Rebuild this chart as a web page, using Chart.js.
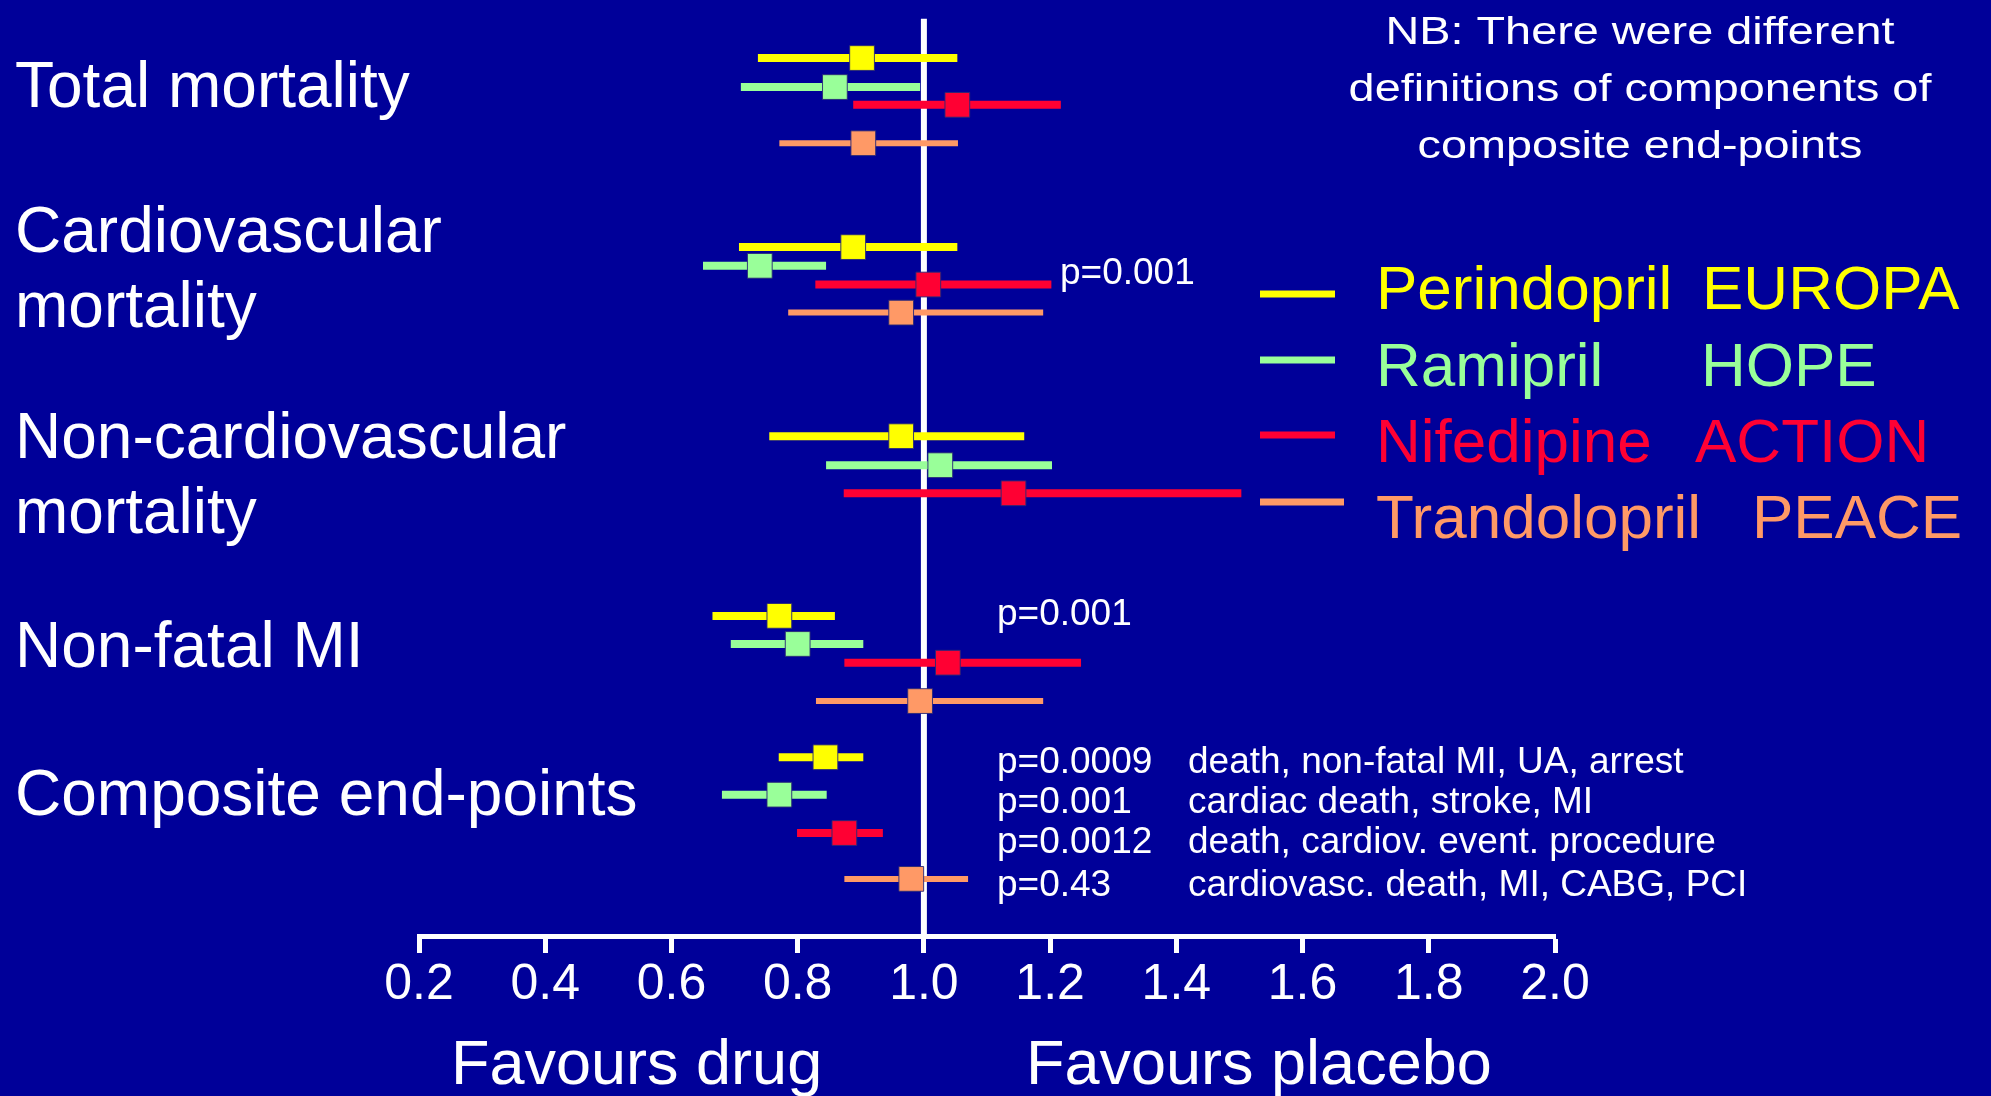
<!DOCTYPE html>
<html>
<head>
<meta charset="utf-8">
<script src="https://cdn.jsdelivr.net/npm/chart.js@4/dist/chart.umd.min.js"></script>
<style>
  html, body { margin: 0; padding: 0; background: #000099; }
  canvas { display: block; }
</style>
</head>
<body>
<canvas id="forest" width="1991" height="1096"></canvas>
<script>
// Outcomes (rows of the forest plot), one label line per array entry
const outcomes = [
  ['Total mortality'],
  ['Cardiovascular', 'mortality'],
  ['Non-cardiovascular', 'mortality'],
  ['Non-fatal MI'],
  ['Composite end-points']
];

// Treatment arms and their trials
const drugs  = ['Perindopril', 'Ramipril', 'Nifedipine', 'Trandolopril'];
const trials = ['EUROPA', 'HOPE', 'ACTION', 'PEACE'];

// Relative risk with lower / upper confidence limits, per outcome
const europaRR = [0.902, 0.888, 0.964, 0.771, 0.844];
const europaLo = [0.737, 0.707, 0.755, 0.665, 0.770];
const europaHi = [1.053, 1.053, 1.159, 0.859, 0.904];

const hopeRR = [0.859, 0.740, 1.026, 0.800, 0.771];
const hopeLo = [0.710, 0.650, 0.845, 0.694, 0.680];
const hopeHi = [0.994, 0.845, 1.203, 0.904, 0.846];

const actionRR = [1.053, 1.007, 1.142, 1.038, 0.874];
const actionLo = [0.888, 0.828, 0.873, 0.874, 0.799];
const actionHi = [1.217, 1.202, 1.503, 1.249, 0.935];

const peaceRR = [0.904, 0.964, null, 0.994, 0.980];
const peaceLo = [0.771, 0.785, null, 0.829, 0.874];
const peaceHi = [1.054, 1.189, null, 1.189, 1.070];

// x-axis ticks
const xTicks = [0.2, 0.4, 0.6, 0.8, 1.0, 1.2, 1.4, 1.6, 1.8, 2.0];

// p-values and composite end-point definitions
const pCardiovascular = 'p=0.001';
const pNonFatalMI = 'p=0.001';
const pComposite = ['p=0.0009', 'p=0.001', 'p=0.0012', 'p=0.43'];
const compositeDefinitions = [
  'death, non-fatal MI, UA, arrest',
  'cardiac death, stroke, MI',
  'death, cardiov. event. procedure',
  'cardiovasc. death, MI, CABG, PCI'
];
const noteLines = ['NB: There were different', 'definitions of components of', 'composite end-points'];

// ---- layout (row slots on the vertical scale, styles) ----
const rowSlots = [
  [3.1, 13.2, 23.3, 32.9, 40.45],
  [4.65, 14.2, 24.85, 34.4, 42.45],
  [5.6, 15.2, 26.35, 35.4, 44.5],
  [7.65, 16.7, null, 37.45, 46.95]
];
const colors = ['#ffff00', '#99ff99', '#ff0033', '#ff9966'];
const lineWidths = [8, 8, 8, 6];
const FONT = '"Liberation Sans", Arial, Helvetica, sans-serif';

const series = [
  { rr: europaRR, lo: europaLo, hi: europaHi },
  { rr: hopeRR, lo: hopeLo, hi: hopeHi },
  { rr: actionRR, lo: actionLo, hi: actionHi },
  { rr: peaceRR, lo: peaceLo, hi: peaceHi }
];

const datasets = [];

// Reference line at relative risk 1.0
datasets.push({
  data: [{ x: 1.0, y: 1.0 }, { x: 1.0, y: 50 }],
  showLine: true, borderColor: '#ffffff', borderWidth: 6,
  pointRadius: 0, order: 30
});

// Confidence interval whiskers
series.forEach((s, si) => {
  s.rr.forEach((v, oi) => {
    if (v === null) return;
    const y = rowSlots[si][oi];
    datasets.push({
      data: [{ x: s.lo[oi], y: y }, { x: s.hi[oi], y: y }],
      showLine: true, borderColor: colors[si], borderWidth: lineWidths[si],
      borderCapStyle: 'butt', pointRadius: 0, order: 20
    });
  });
});

// Point estimates as squares
series.forEach((s, si) => {
  const pts = [];
  s.rr.forEach((v, oi) => {
    if (v !== null) pts.push({ x: v, y: rowSlots[si][oi] });
  });
  datasets.push({
    data: pts,
    pointStyle: 'rect', pointRadius: 17.5, pointHoverRadius: 17.5,
    backgroundColor: colors[si], borderColor: 'rgba(40,40,120,0.9)', borderWidth: 1,
    order: 10 - si
  });
});

const textPlugin = {
  id: 'forestText',
  beforeDraw(chart) {
    const ctx = chart.ctx;
    ctx.save();
    ctx.fillStyle = '#000099';
    ctx.fillRect(0, 0, chart.width, chart.height);
    ctx.restore();
  },
  afterDraw(chart) {
    const ctx = chart.ctx;
    ctx.save();
    ctx.textBaseline = 'alphabetic';

    // outcome labels
    const labelBaselines = [[107], [252, 327], [458, 533], [667], [815]];
    ctx.fillStyle = '#ffffff';
    ctx.font = '64px ' + FONT;
    ctx.textAlign = 'left';
    outcomes.forEach((lines, i) => {
      lines.forEach((t, j) => ctx.fillText(t, 15, labelBaselines[i][j]));
    });

    // note, top right (slightly widened lettering)
    ctx.save();
    ctx.font = '39px ' + FONT;
    ctx.textAlign = 'center';
    ctx.translate(1640, 0);
    ctx.scale(1.2, 1);
    noteLines.forEach((t, i) => ctx.fillText(t, 0, 44 + i * 57));
    ctx.restore();

    // legend
    const legendLineY = [294, 360, 435, 502];
    const legendLineEnd = [1335, 1335, 1335, 1344];
    const legendBase = [309, 386, 462, 538];
    const trialX = [1702, 1701, 1695, 1752];
    ctx.font = '62px ' + FONT;
    ctx.textAlign = 'left';
    drugs.forEach((d, i) => {
      ctx.strokeStyle = colors[i];
      ctx.lineWidth = 7;
      ctx.beginPath();
      ctx.moveTo(1260, legendLineY[i]);
      ctx.lineTo(legendLineEnd[i], legendLineY[i]);
      ctx.stroke();
      ctx.fillStyle = colors[i];
      ctx.fillText(d, 1376, legendBase[i]);
      ctx.fillText(trials[i], trialX[i], legendBase[i]);
    });

    // p-values
    ctx.fillStyle = '#ffffff';
    ctx.font = '37px ' + FONT;
    ctx.fillText(pCardiovascular, 1060, 284);
    ctx.fillText(pNonFatalMI, 997, 625);
    const compBase = [773, 813, 853, 896];
    pComposite.forEach((p, i) => {
      ctx.fillText(p, 997, compBase[i]);
      ctx.fillText(compositeDefinitions[i], 1188, compBase[i]);
    });

    // axis captions
    ctx.font = '63px ' + FONT;
    ctx.fillText('Favours drug', 451, 1084);
    ctx.fillText('Favours placebo', 1026, 1084);
    ctx.restore();
  }
};

new Chart(document.getElementById('forest'), {
  type: 'scatter',
  data: { datasets },
  options: {
    responsive: false,
    devicePixelRatio: 1,
    animation: false,
    events: [],
    layout: { autoPadding: false, padding: { left: 419, right: 436, top: 0, bottom: 0 } },
    plugins: { legend: { display: false }, tooltip: { enabled: false } },
    scales: {
      x: {
        type: 'linear',
        position: 'bottom',
        min: 0.2,
        max: 2.0,
        afterBuildTicks(scale) { scale.ticks = xTicks.map(v => ({ value: v })); },
        afterFit(scale) { scale.height = 160; },
        ticks: {
          color: '#ffffff',
          font: { family: FONT, size: 50 },
          padding: 2,
          maxRotation: 0,
          autoSkip: false,
          callback: v => Number(v).toFixed(1)
        },
        grid: {
          drawOnChartArea: false,
          drawTicks: true,
          tickLength: 17,
          tickWidth: 5,
          tickColor: '#ffffff'
        },
        border: { display: true, color: '#ffffff', width: 5 }
      },
      y: {
        type: 'linear',
        display: false,
        reverse: true,
        min: 0,
        max: 50
      }
    }
  },
  plugins: [textPlugin]
});
</script>
</body>
</html>
